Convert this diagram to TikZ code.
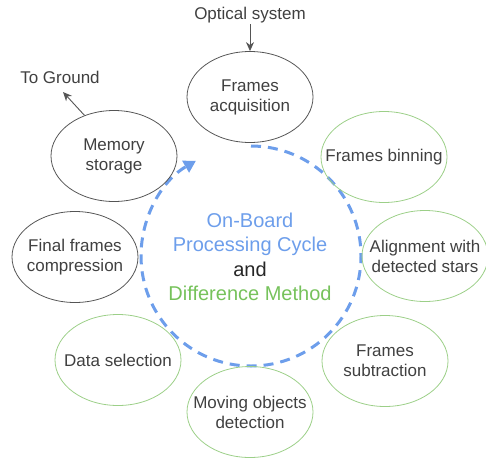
\documentclass[tikz,border=0pt]{standalone}
\usepackage{fontspec}
\setmainfont{Liberation Sans}
\usetikzlibrary{shapes.geometric,arrows.meta}
\definecolor{txtgray}{HTML}{404040}
\definecolor{linegray}{HTML}{555555}
\definecolor{cycleblue}{HTML}{6D9EEB}
\definecolor{methgreen}{HTML}{76C25B}
\definecolor{ringgreen}{HTML}{9CCF88}
\tikzset{
  x=1pt, y=-1pt,
  stage/.style={ellipse, draw=linegray, line width=0.8pt, minimum width=126pt,
    minimum height=91pt, inner xsep=-25pt, inner ysep=-15pt, align=center,
    text=txtgray, font=\fontsize{17}{20}\selectfont},
  diffstage/.style={stage, draw=ringgreen},
  label/.style={text=txtgray, font=\fontsize{17}{20}\selectfont, inner sep=1pt},
  flow/.style={draw=linegray, line width=0.9pt, -{Stealth[length=9pt,width=8pt]}},
  cycle/.style={draw=cycleblue, line width=3pt, dash pattern=on 10pt off 7pt,
    -{Triangle[length=12pt,width=13pt]}}
}
\begin{document}
\begin{tikzpicture}
\useasboundingbox (0,0) rectangle (486,458);

% processing cycle ring, running clockwise from the top (y axis points down)
\coordinate (hub) at (251,256);
\draw[cycle] (hub) ++(-90:110) arc[start angle=-90, end angle=240, radius=110];

% centre caption
\node[align=center, font=\fontsize{20}{24.5}\selectfont] (title) at (250,257)
  {\textcolor{cycleblue}{On-Board}\\
   \textcolor{cycleblue}{Processing Cycle}\\
   \textcolor{black!85}{and}\\
   \textcolor{methgreen}{Difference Method}};

% stages of the cycle
\node[stage]     (acq)  at (250,97)  {Frames\\acquisition};
\node[diffstage] (bin)  at (384,157) {Frames binning};
\node[diffstage] (ali)  at (425,256) {Alignment with\\detected stars};
\node[diffstage] (sub)  at (385,361) {Frames\\subtraction};
\node[diffstage] (mov)  at (250,412) {Moving objects\\detection};
\node[diffstage] (sel)  at (118,360) {Data selection};
\node[stage]     (comp) at (75,257)  {Final frames\\compression};
\node[stage]     (mem)  at (114,156) {Memory\\storage};

% external links
\node[label] (optic)  at (250,15) {Optical system};
\node[label] (ground) at (60,77)  {To Ground};
\coordinate (gtip) at (63,92);

\draw[flow] (optic) -- (acq);
\draw[flow] (mem.126) -- (gtip);
\end{tikzpicture}
\end{document}
